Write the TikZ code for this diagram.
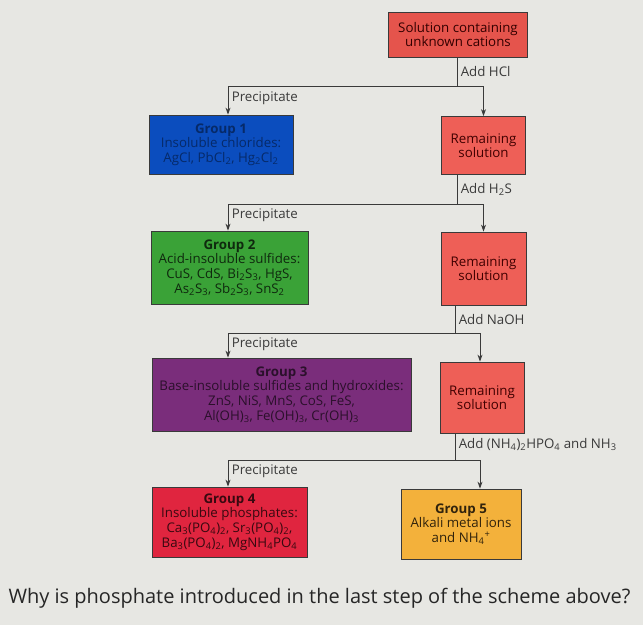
\documentclass[tikz,border=0pt]{standalone}
\usepackage{fontspec}
\setmainfont{Open Sans}
\usetikzlibrary{arrows.meta}

\definecolor{bgcol}{HTML}{E7E7E3}
\definecolor{linecol}{HTML}{3A3A3A}
\definecolor{solred}{HTML}{E5544C}
\definecolor{remred}{HTML}{EE5F57}
\definecolor{grpblue}{HTML}{0B4DBE}
\definecolor{grpgreen}{HTML}{3AA237}
\definecolor{grppurple}{HTML}{7A2D7B}
\definecolor{grpred}{HTML}{E0253F}
\definecolor{grpyellow}{HTML}{F3B13B}

\tikzset{
    box/.style={draw=linecol, line width=0.8pt, align=center, inner sep=2pt,
        font=\fontsize{13.3}{14.6}\selectfont},
    arr/.style={draw=linecol, line width=0.9pt, -{Stealth[length=7pt,width=5pt]}},
    stem/.style={draw=linecol, line width=0.9pt},
    lbl/.style={text=linecol, font=\fontsize{13.3}{15}\selectfont}
}

\begin{document}
\begin{tikzpicture}[x=1pt, y=-1pt]
    \fill[bgcol] (0,0) rectangle (643,625);

    % boxes
    \node[box, fill=solred, text=black!80!red, minimum width=139pt, minimum height=45pt]
        (sol) at (458,34.5) {Solution containing\\unknown cations};
    \node[box, fill=remred, text=black!75!red, minimum width=84pt, minimum height=58pt]
        (rem1) at (483.5,145.5) {Remaining\\solution};
    \node[box, fill=remred, text=black!75!red, minimum width=85pt, minimum height=73pt]
        (rem2) at (483.5,268.5) {Remaining\\solution};
    \node[box, fill=remred, text=black!75!red, minimum width=84pt, minimum height=71pt]
        (rem3) at (482,397.5) {Remaining\\solution};

    \node[box, fill=grpblue, text=grpblue!55!black, minimum width=144pt, minimum height=59pt]
        (g1) at (221,144.5) {\textbf{Group 1}\\Insoluble chlorides:\\AgCl, PbCl\textsubscript{2}, Hg\textsubscript{2}Cl\textsubscript{2}};
    \node[box, fill=grpgreen, text=grpgreen!25!black, minimum width=157pt, minimum height=73pt]
        (g2) at (229.5,267.5) {\textbf{Group 2}\\Acid-insoluble sulfides:\\CuS, CdS, Bi\textsubscript{2}S\textsubscript{3}, HgS,\\As\textsubscript{2}S\textsubscript{3}, Sb\textsubscript{2}S\textsubscript{3}, SnS\textsubscript{2}};
    \node[box, fill=grppurple, text=grppurple!35!black, minimum width=259pt, minimum height=73pt]
        (g3) at (281.5,394.5) {\textbf{Group 3}\\Base-insoluble sulfides and hydroxides:\\ZnS, NiS, MnS, CoS, FeS,\\Al(OH)\textsubscript{3}, Fe(OH)\textsubscript{3}, Cr(OH)\textsubscript{3}};
    \node[box, fill=grpred, text=grpred!25!black, minimum width=155pt, minimum height=70pt]
        (g4) at (229.5,522) {\textbf{Group 4}\\Insoluble phosphates:\\Ca\textsubscript{3}(PO\textsubscript{4})\textsubscript{2}, Sr\textsubscript{3}(PO\textsubscript{4})\textsubscript{2},\\Ba\textsubscript{3}(PO\textsubscript{4})\textsubscript{2}, MgNH\textsubscript{4}PO\textsubscript{4}};
    \node[box, fill=grpyellow, text=grpyellow!20!black, minimum width=120pt, minimum height=70pt]
        (g5) at (461,524) {\textbf{Group 5}\\Alkali metal ions\\and NH\textsubscript{4}\textsuperscript{+}};

    % branch points and arrow columns
    \coordinate (b1) at (457,86);
    \coordinate (b2) at (457,204);
    \coordinate (b3) at (455,333);
    \coordinate (b4) at (455,460);
    \coordinate (lft) at (228,0);
    \coordinate (rgt) at (480,0);

    % reagents
    \draw[stem] (sol.south -| b1) -- node[lbl, right]{Add HCl} (b1);
    \draw[stem] (rem1.south -| b2) -- node[lbl, right]{Add H\textsubscript{2}S} (b2);
    \draw[stem] (rem2.south -| b3) -- node[lbl, right]{Add NaOH} (b3);
    \draw[stem] (rem3.south -| b4) -- node[lbl, right, yshift=2pt]{Add (NH\textsubscript{4})\textsubscript{2}HPO\textsubscript{4} and NH\textsubscript{3}} (b4);

    % precipitates
    \draw[arr] (b1) -| node[lbl, pos=0.72, right]{Precipitate} (lft |- g1.north);
    \draw[arr] (b2) -| node[lbl, pos=0.72, right]{Precipitate} (lft |- g2.north);
    \draw[arr] (b3) -| node[lbl, pos=0.72, right]{Precipitate} (lft |- g3.north);
    \draw[arr] (b4) -| node[lbl, pos=0.72, right]{Precipitate} (lft |- g4.north);

    % remaining solutions
    \draw[arr] (b1) -| (rem1.north);
    \draw[arr] (b2) -| (rem2.north);
    \draw[arr] (b3) -| (rgt |- rem3.north);
    \draw[arr] (b4) -| (rgt |- g5.north);

    \node[anchor=base west, text=black!85, font=\fontsize{20}{24}\selectfont]
        (q) at (5,603) {Why is phosphate introduced in the last step of the scheme above?};
\end{tikzpicture}
\end{document}
